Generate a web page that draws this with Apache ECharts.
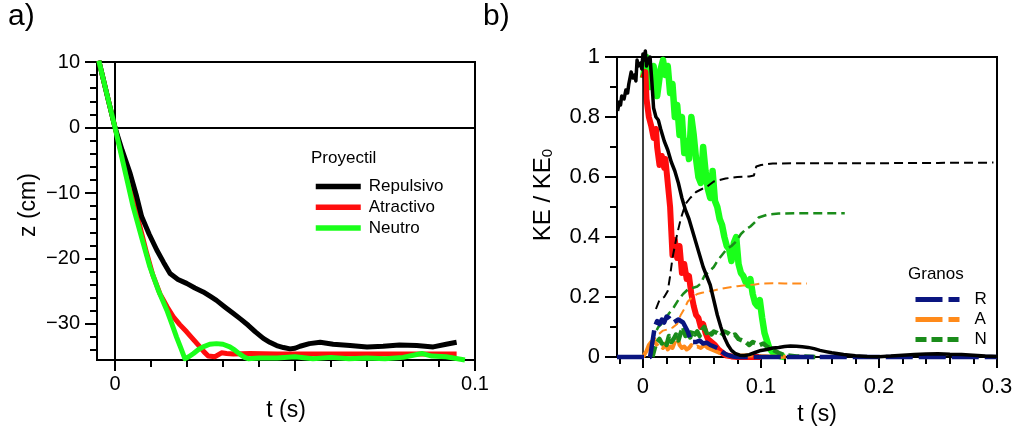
<!DOCTYPE html>
<html><head><meta charset="utf-8">
<script src="https://cdn.jsdelivr.net/npm/echarts@6/dist/echarts.min.js"></script>
<style>html,body{margin:0;padding:0;background:#fff}#c{width:1016px;height:431px}</style>
</head><body><div id="c"></div>
<script>
// ---------- Panel a: z (cm) vs t (s) ----------
const aRepT = [-0.0045,-0.002,0,0.002,0.0042,0.006,0.0074,0.0095,0.0116,0.0135,0.0153,0.0175,0.0199,0.0222,0.0245,0.0265,0.0282,0.0305,0.0329,0.035,0.037,0.039,0.0412,0.043,0.0449,0.0468,0.0486,0.05,0.0514,0.054,0.057,0.0606,0.0653,0.07,0.0745,0.079,0.0838,0.0884,0.092,0.0949];
const aRepZ = [10.2,4.5,0,-3.5,-7.0,-10.5,-13.6,-16.3,-18.7,-20.6,-22.3,-23.2,-23.8,-24.5,-25.1,-25.8,-26.4,-27.4,-28.4,-29.3,-30.2,-31.2,-32.2,-32.8,-33.3,-33.6,-33.8,-33.7,-33.4,-33.0,-32.8,-33.1,-33.3,-33.5,-33.4,-33.2,-33.3,-33.5,-33.1,-32.8];
const aAtrT = [-0.0045,-0.002,0,0.0025,0.0051,0.007,0.0088,0.0105,0.0125,0.0145,0.0162,0.018,0.0199,0.0218,0.0236,0.0248,0.0259,0.0278,0.0296,0.031,0.0329,0.0375,0.045,0.055,0.065,0.075,0.085,0.0949];
const aAtrZ = [10.2,4.5,0,-5.5,-11.1,-15.3,-19.2,-22.5,-25.4,-27.4,-28.9,-30.1,-31.2,-32.4,-33.5,-34.3,-34.9,-35.0,-34.4,-34.5,-34.6,-34.5,-34.6,-34.6,-34.6,-34.6,-34.6,-34.6];
const aNeuT = [-0.0045,-0.002,0,0.0025,0.005,0.0075,0.0097,0.012,0.0144,0.0158,0.0171,0.0183,0.0194,0.0205,0.0218,0.0232,0.0245,0.0263,0.0282,0.03,0.0319,0.0333,0.0347,0.036,0.037,0.040,0.045,0.050,0.055,0.060,0.065,0.070,0.075,0.080,0.0852,0.088,0.092,0.0972];
const aNeuZ = [10.2,4.5,0,-6,-12,-17,-21.3,-24.8,-27.9,-30.0,-32.0,-33.7,-35.3,-35.0,-34.5,-33.9,-33.5,-33.1,-33.0,-33.1,-33.5,-34.0,-34.6,-35.1,-35.3,-35.2,-35.2,-35.0,-35.3,-35.1,-35.3,-35.2,-35.3,-35.1,-34.5,-34.9,-35.0,-35.5];
const aXMajor = [0,0.05,0.1];
const aXMinor = [0.01,0.02,0.03,0.04,0.06,0.07,0.08,0.09];
const aXLabels = [0,0.1];
const aYMajor = [-30,-20,-10,0,10];
const aYMinor = [-34,-32,-28,-26,-24,-22,-18,-16,-14,-12,-8,-6,-4,-2,2,4,6,8];

// ---------- Panel b: KE / KE0 vs t (s) ----------
const bRepT = [-0.0215,-0.020,-0.019,-0.018,-0.016,-0.0145,-0.013,-0.012,-0.010,-0.0085,-0.007,-0.006,-0.005,-0.004,-0.002,-0.001,0.000,0.001,0.002,0.003,0.0045,0.006,0.0075,0.009,0.011,0.013,0.015,0.018,0.021,0.024,0.027,0.030,0.033,0.036,0.039,0.042,0.045,0.048,0.051,0.054,0.057,0.060,0.063,0.066,0.069,0.072,0.075,0.078,0.082,0.086,0.090,0.095,0.100,0.105,0.110,0.115,0.120,0.125,0.130,0.135,0.140,0.145,0.150,0.155,0.160,0.170,0.180,0.190,0.200,0.210,0.220,0.230,0.240,0.250,0.260,0.270,0.280,0.290,0.300];
const bRepKE = [0.82,0.85,0.84,0.87,0.86,0.89,0.88,0.91,0.95,0.93,0.94,0.92,0.99,0.97,0.98,0.96,1.01,0.99,1.02,0.97,0.99,1.0,0.92,0.83,0.80,0.79,0.76,0.72,0.69,0.65,0.62,0.58,0.53,0.49,0.46,0.42,0.38,0.34,0.30,0.27,0.24,0.19,0.14,0.10,0.065,0.04,0.022,0.012,0.006,0.005,0.008,0.015,0.022,0.025,0.03,0.032,0.035,0.037,0.036,0.034,0.032,0.028,0.022,0.018,0.014,0.008,0.004,0.002,0.001,0.003,0.006,0.008,0.010,0.011,0.009,0.008,0.006,0.003,0.002];
const bAtrT = [0.000,0.002,0.003,0.005,0.007,0.009,0.011,0.012,0.014,0.016,0.018,0.019,0.021,0.023,0.024,0.025,0.027,0.029,0.031,0.033,0.035,0.037,0.039,0.041,0.043,0.045,0.047,0.049,0.051,0.053,0.055,0.058,0.061,0.064,0.067,0.070,0.075,0.080,0.100];
const bAtrKE = [0.93,0.95,0.86,0.80,0.77,0.73,0.76,0.70,0.64,0.67,0.63,0.66,0.58,0.50,0.42,0.34,0.39,0.33,0.37,0.28,0.31,0.26,0.27,0.21,0.17,0.14,0.13,0.10,0.11,0.08,0.06,0.05,0.04,0.025,0.015,0.006,0.002,0,0];
const bNeuT = [0.000,0.003,0.006,0.009,0.012,0.015,0.017,0.019,0.021,0.023,0.025,0.027,0.029,0.031,0.033,0.035,0.037,0.039,0.041,0.043,0.045,0.047,0.049,0.051,0.053,0.055,0.057,0.059,0.061,0.063,0.065,0.067,0.069,0.071,0.073,0.075,0.077,0.079,0.081,0.083,0.085,0.087,0.089,0.091,0.093,0.095,0.097,0.099,0.101,0.103,0.105,0.107,0.109,0.111,0.115,0.120];
const bNeuKE = [0.93,1.00,0.90,0.97,0.87,0.96,0.99,0.94,0.97,0.88,0.91,0.80,0.84,0.74,0.80,0.68,0.72,0.66,0.80,0.74,0.66,0.60,0.58,0.70,0.62,0.56,0.53,0.62,0.52,0.50,0.46,0.44,0.40,0.37,0.36,0.32,0.38,0.40,0.31,0.28,0.27,0.25,0.24,0.26,0.21,0.18,0.17,0.19,0.13,0.08,0.055,0.03,0.02,0.01,0.004,0];
const bCumRT = [0.011,0.014,0.018,0.021,0.023,0.025,0.027,0.029,0.032,0.036,0.040,0.045,0.050,0.055,0.060,0.065,0.070,0.080,0.090,0.094,0.096,0.100,0.110,0.130,0.160,0.200,0.250,0.297];
const bCumRKE = [0.16,0.19,0.20,0.22,0.27,0.33,0.37,0.41,0.46,0.51,0.53,0.55,0.56,0.57,0.585,0.59,0.595,0.60,0.602,0.605,0.635,0.64,0.645,0.646,0.646,0.646,0.647,0.648];
const bCumNT = [0.006,0.009,0.013,0.018,0.022,0.026,0.030,0.034,0.038,0.042,0.046,0.049,0.052,0.056,0.060,0.063,0.067,0.071,0.075,0.079,0.083,0.087,0.091,0.095,0.098,0.102,0.106,0.115,0.130,0.150,0.171];
const bCumNKE = [0.0,0.07,0.10,0.12,0.145,0.165,0.19,0.21,0.225,0.23,0.235,0.245,0.27,0.285,0.30,0.32,0.34,0.36,0.37,0.385,0.41,0.425,0.435,0.45,0.465,0.47,0.475,0.478,0.479,0.479,0.479];
const bCumAT = [0.001,0.004,0.007,0.010,0.013,0.017,0.021,0.025,0.029,0.032,0.035,0.038,0.042,0.046,0.050,0.055,0.060,0.065,0.070,0.075,0.080,0.085,0.090,0.095,0.100,0.110,0.120,0.130,0.139];
const bCumAKE = [0.0,0.03,0.05,0.06,0.075,0.088,0.092,0.098,0.11,0.14,0.16,0.185,0.20,0.21,0.214,0.218,0.222,0.226,0.23,0.233,0.236,0.238,0.24,0.242,0.245,0.246,0.245,0.245,0.245];
const bGrRT = [-0.022,0.006,0.008,0.010,0.012,0.014,0.016,0.018,0.020,0.022,0.024,0.026,0.028,0.030,0.032,0.034,0.036,0.038,0.040,0.042,0.045,0.048,0.051,0.054,0.057,0.060,0.063,0.066,0.069,0.072,0.076,0.080,0.300];
const bGrRKE = [0,0,0.05,0.10,0.12,0.11,0.125,0.115,0.135,0.13,0.12,0.115,0.12,0.125,0.12,0.115,0.10,0.085,0.06,0.05,0.05,0.055,0.045,0.048,0.04,0.035,0.03,0.02,0.012,0.006,0.002,0,0];
const bGrAT = [0.000,0.003,0.005,0.007,0.009,0.011,0.013,0.015,0.017,0.019,0.021,0.023,0.025,0.027,0.029,0.031,0.033,0.035,0.037,0.039,0.041,0.043,0.046,0.049,0.052,0.055,0.058,0.061,0.064,0.067,0.070,0.074,0.080,0.090,0.100,0.110,0.140];
const bGrAKE = [0,0.02,0.04,0.05,0.055,0.045,0.035,0.04,0.03,0.045,0.025,0.035,0.03,0.05,0.07,0.04,0.03,0.035,0.025,0.03,0.04,0.03,0.035,0.03,0.04,0.03,0.025,0.02,0.015,0.01,0.006,0.003,0.004,0.006,0.003,0.001,0];
const bGrNT = [0.008,0.010,0.012,0.014,0.016,0.018,0.020,0.022,0.024,0.026,0.028,0.030,0.032,0.034,0.036,0.038,0.040,0.042,0.044,0.046,0.048,0.050,0.052,0.054,0.056,0.058,0.060,0.063,0.066,0.069,0.072,0.075,0.078,0.081,0.084,0.087,0.090,0.093,0.096,0.099,0.102,0.105,0.108,0.112,0.116,0.120,0.130,0.150];
const bGrNKE = [0,0.03,0.05,0.06,0.045,0.055,0.04,0.07,0.05,0.06,0.075,0.055,0.08,0.10,0.07,0.085,0.065,0.09,0.075,0.085,0.07,0.09,0.10,0.08,0.09,0.075,0.085,0.08,0.07,0.085,0.08,0.07,0.075,0.06,0.055,0.05,0.04,0.05,0.045,0.04,0.045,0.035,0.03,0.02,0.012,0.006,0.002,0];
const bXMajor = [0,0.1,0.2,0.3];
const bXMinor = [-0.02,0.02,0.04,0.06,0.08,0.12,0.14,0.16,0.18,0.22,0.24,0.26,0.28];
const bYMajor = [0,0.2,0.4,0.6,0.8,1];
const bYMinor = [0.1,0.3,0.5,0.7,0.9];

const zip = (t, v) => t.map((x, i) => [x, v[i]]);
const FONT = 'Liberation Sans';
const fmtMinus = v => (v < 0 ? '\u2212' + Math.abs(v) : String(v));

function mainX(grid, min, max, major, labels, labelSize, margin, name, nameGap, namePad) {
  return {
    type: 'value', gridIndex: grid, min: min, max: max, position: 'bottom',
    splitLine: { show: false },
    axisLine: { show: true, onZero: false, lineStyle: { color: '#000', width: 2 } },
    axisTick: { show: true, customValues: major, length: 11, lineStyle: { color: '#000', width: 2 } },
    axisLabel: { show: true, customValues: labels, margin: margin, color: '#000', fontFamily: FONT, fontSize: labelSize, formatter: fmtMinus },
    name: name, nameLocation: 'middle', nameGap: nameGap,
    nameTextStyle: { color: '#000', fontFamily: FONT, fontSize: 23, padding: namePad }
  };
}
function minorX(grid, min, max, minor) {
  return {
    type: 'value', gridIndex: grid, min: min, max: max, position: 'bottom',
    splitLine: { show: false }, axisLine: { show: false, onZero: false },
    axisTick: { show: true, customValues: minor, length: 7, lineStyle: { color: '#000', width: 2 } },
    axisLabel: { show: false }
  };
}
function mainY(grid, min, max, major, labelSize, margin, name, nameGap, namePad) {
  return {
    type: 'value', gridIndex: grid, min: min, max: max, position: 'left',
    splitLine: { show: false },
    axisLine: { show: true, onZero: false, lineStyle: { color: '#000', width: 2 } },
    axisTick: { show: true, customValues: major, length: 12, lineStyle: { color: '#000', width: 2 } },
    axisLabel: { show: true, customValues: major, margin: margin, color: '#000', fontFamily: FONT, fontSize: labelSize, formatter: fmtMinus },
    name: name, nameLocation: 'middle', nameGap: nameGap, nameRotate: 90,
    nameTextStyle: { color: '#000', fontFamily: FONT, fontSize: 23, padding: namePad,
      rich: { m: { fontFamily: FONT, fontSize: 24, color: '#000' }, s: { fontFamily: FONT, fontSize: 15, color: '#000', verticalAlign: 'bottom' } } }
  };
}
function minorY(grid, min, max, minor) {
  return {
    type: 'value', gridIndex: grid, min: min, max: max, position: 'left',
    splitLine: { show: false }, axisLine: { show: false, onZero: false },
    axisTick: { show: true, customValues: minor, length: 7, lineStyle: { color: '#000', width: 2 } },
    axisLabel: { show: false }
  };
}
function line(name, xi, yi, data, color, width, type, z) {
  return {
    type: 'line', name: name, xAxisIndex: xi, yAxisIndex: yi, data: data,
    showSymbol: false, symbol: 'none', smooth: false, clip: false, z: z,
    lineStyle: { color: color, width: width, type: type || 'solid', cap: 'butt', join: 'round' },
    itemStyle: { color: color }, silent: true, animation: false
  };
}

const NAVY = '#0a1580', ORANGE = '#ff8a1a', DKGREEN = '#1a8c1a', LIME = '#1aff1a', RED = '#ff0d0d';
const hiddenSymbol = { opacity: 0, color: 'transparent', borderWidth: 0 };

const option = {
  backgroundColor: '#fff',
  animation: false,
  title: [
    { text: 'a)', left: 8, top: 2, padding: 0, textStyle: { fontFamily: FONT, fontSize: 30, fontWeight: 'normal', color: '#000' } },
    { text: 'b)', left: 483, top: 2, padding: 0, textStyle: { fontFamily: FONT, fontSize: 30, fontWeight: 'normal', color: '#000' } },
    { text: 'Proyectil', left: 311, top: 150, padding: 0, textStyle: { fontFamily: FONT, fontSize: 17, fontWeight: 'normal', color: '#000' } },
    { text: 'Granos', left: 908, top: 266, padding: 0, textStyle: { fontFamily: FONT, fontSize: 17, fontWeight: 'normal', color: '#000' } }
  ],
  legend: [
    { data: ['Repulsivo', 'Atractivo', 'Neutro'], orient: 'vertical', left: 313, top: 178, padding: 0,
      itemWidth: 45, itemHeight: 14, itemGap: 3.7, selectedMode: false, itemStyle: hiddenSymbol,
      lineStyle: { width: 5.5 },
      textStyle: { fontFamily: FONT, fontSize: 17, color: '#000', padding: [0, 0, 0, 3] } },
    { data: ['R', 'A', 'N'], orient: 'vertical', left: 913, top: 291, padding: 0,
      itemWidth: 44, itemHeight: 14, itemGap: 3, selectedMode: false, itemStyle: hiddenSymbol,
      lineStyle: { width: 5 },
      textStyle: { fontFamily: FONT, fontSize: 17, color: '#000', padding: [0, 0, 0, 10] } }
  ],
  grid: [
    { left: 97, top: 62, width: 378, height: 298, show: true, borderColor: '#000', borderWidth: 2, backgroundColor: 'transparent', containLabel: false },
    { left: 617, top: 57, width: 380, height: 300, show: true, borderColor: '#000', borderWidth: 2, backgroundColor: 'transparent', containLabel: false }
  ],
  xAxis: [
    mainX(0, -0.005, 0.1, aXMajor, aXLabels, 20, 14, 't (s)', 38, [0, 0, 0, 0]),
    minorX(0, -0.005, 0.1, aXMinor),
    mainX(1, -0.022, 0.3, bXMajor, bXMajor, 22, 19, 't (s)', 40, [0, 0, 0, 20]),
    minorX(1, -0.022, 0.3, bXMinor)
  ],
  yAxis: [
    mainY(0, -35.5, 10, aYMajor, 20, 17, 'z (cm)', 57, [0, 0, 0, 12]),
    minorY(0, -35.5, 10, aYMinor),
    mainY(1, 0, 1, bYMajor, 22, 17, '{m|KE / KE}{s|0}', 62, [0, 0, 0, 24]),
    minorY(1, 0, 1, bYMinor)
  ],
  series: [
    Object.assign(line('Repulsivo', 0, 0, zip(aRepT, aRepZ), '#000', 5, 'solid', 5), {
      markLine: { silent: true, symbol: ['none', 'none'], label: { show: false }, animation: false,
        lineStyle: { color: '#000', width: 2, type: 'solid' }, data: [{ xAxis: 0 }, { yAxis: 0 }] }
    }),
    line('Atractivo', 0, 0, zip(aAtrT, aAtrZ), RED, 5, 'solid', 4),
    line('Neutro', 0, 0, zip(aNeuT, aNeuZ), LIME, 5, 'solid', 6),

    Object.assign(line('KE Neutro', 2, 2, zip(bNeuT, bNeuKE), LIME, 6.5, 'solid', 2), {
      markLine: { silent: true, symbol: ['none', 'none'], label: { show: false }, animation: false,
        lineStyle: { color: '#000', width: 1.5, type: 'solid' }, data: [{ xAxis: 0 }] }
    }),
    line('KE Atractivo', 2, 2, zip(bAtrT, bAtrKE), RED, 6, 'solid', 3),
    line('Acum A', 2, 2, zip(bCumAT, bCumAKE), ORANGE, 2, [9, 5], 4),
    line('Acum N', 2, 2, zip(bCumNT, bCumNKE), DKGREEN, 2.5, [9, 5], 4),
    line('A', 2, 2, zip(bGrAT, bGrAKE), ORANGE, 4, [27, 6], 5),
    line('R', 2, 2, zip(bGrRT, bGrRKE), NAVY, 4.5, [27, 6], 6),
    line('N', 2, 2, zip(bGrNT, bGrNKE), DKGREEN, 4.5, [11, 5], 5),
    line('Acum R', 2, 2, zip(bCumRT, bCumRKE), '#000', 2, [9, 5], 7),
    line('KE Repulsivo', 2, 2, zip(bRepT, bRepKE), '#000', 3.5, 'solid', 8)
  ]
};
const chart = echarts.init(document.getElementById('c'), null, { renderer: 'canvas' });
chart.setOption(option);
</script></body></html>
